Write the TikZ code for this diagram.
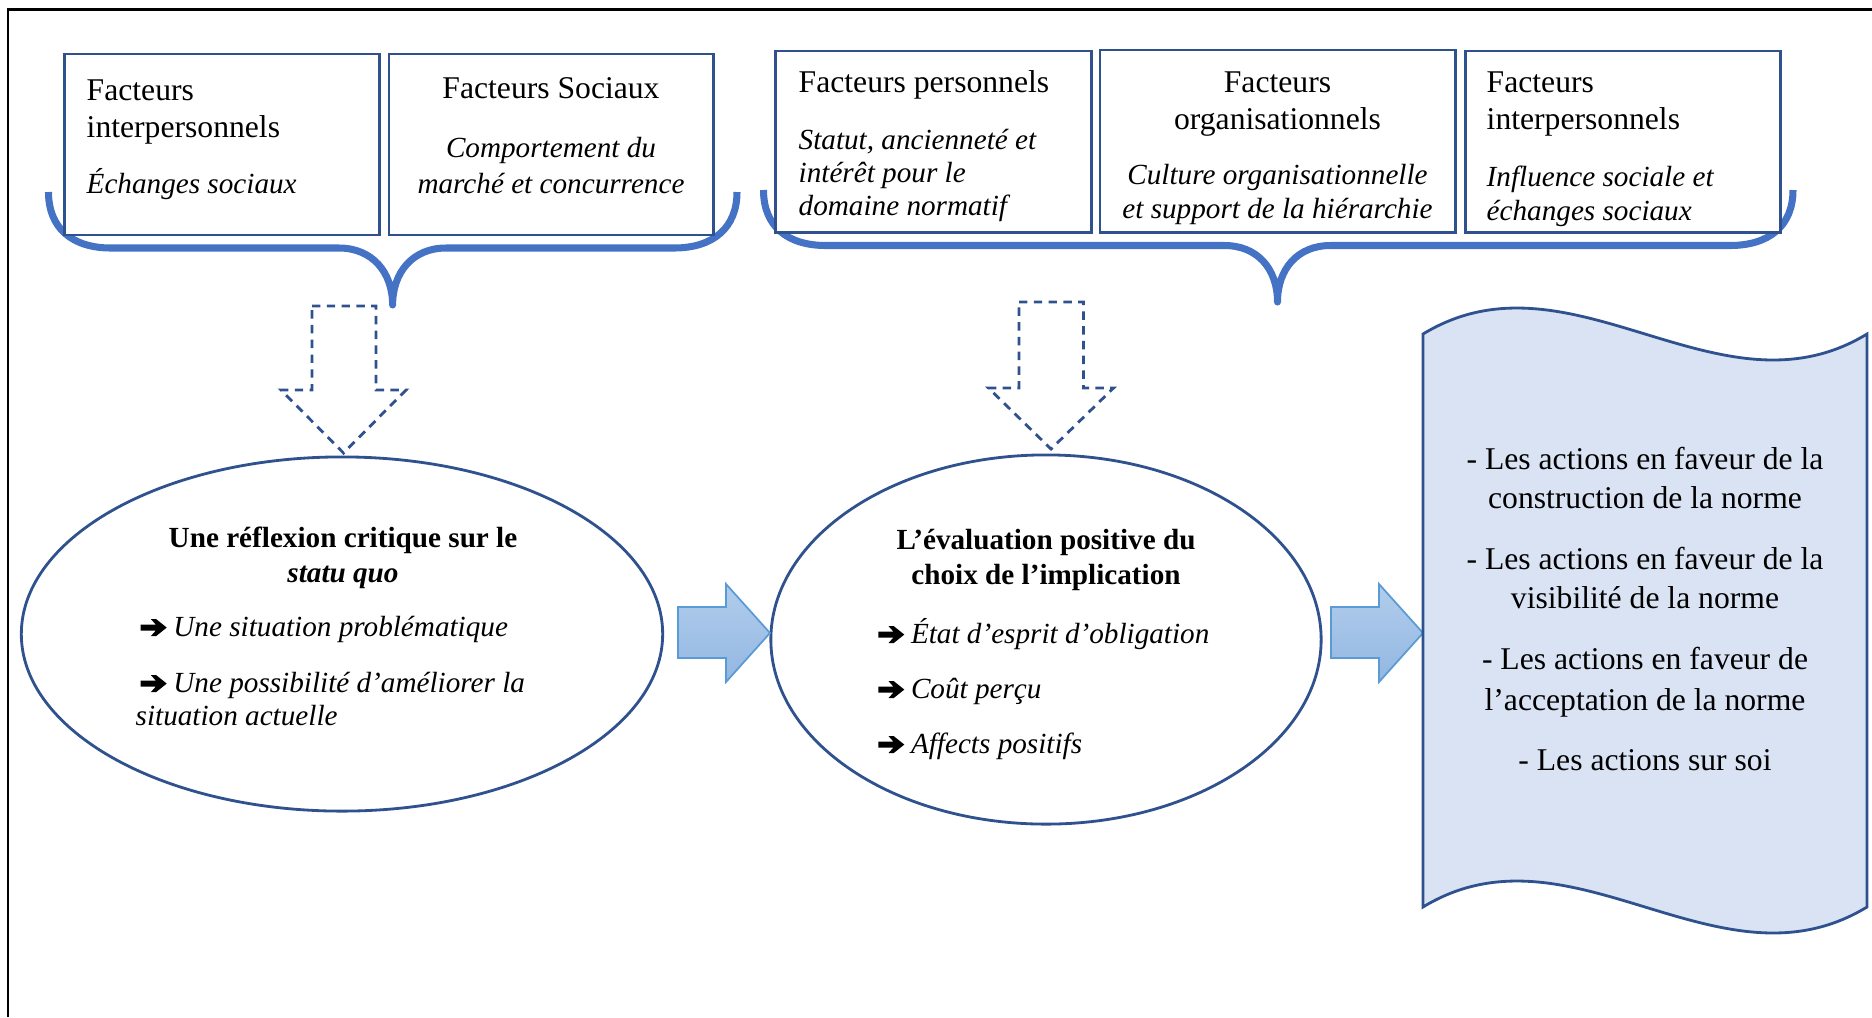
\documentclass[tikz,border=0pt]{standalone}
\usepackage{fontspec}
\setmainfont{Liberation Serif}
\usetikzlibrary{shapes.geometric}
\definecolor{boxblue}{RGB}{47,82,143}
\definecolor{braceblue}{RGB}{68,114,196}
\definecolor{wavefill}{RGB}{218,227,243}
\definecolor{arrtop}{RGB}{178,205,236}
\definecolor{arrbot}{RGB}{146,183,226}
\definecolor{arrline}{RGB}{91,155,213}
\newcommand{\harr}{\tikz[baseline=0pt,x=1pt,y=1pt]{\fill[black] (0,1.55) -- (4.3,1.55) -- (2.9,0) -- (4.4,0) -- (7.4,2.4) -- (4.4,4.8) -- (2.9,4.8) -- (4.3,3.25) -- (0,3.25) -- cycle;}\hspace{1.9pt}}
\tikzset{
  factbox/.style={draw=boxblue, line width=0.8pt, fill=white, rectangle, inner sep=0pt},
  reg/.style={inner sep=0pt, font=\fontsize{9}{10.5}\selectfont},
  ita/.style={inner sep=0pt, font=\fontsize{8.3}{9.6}\selectfont\itshape},
  bld/.style={inner sep=0pt, font=\fontsize{8.3}{9.6}\selectfont\bfseries},
  wavetxt/.style={inner sep=0pt, font=\fontsize{9}{11}\selectfont},
  bracepath/.style={draw=braceblue, line width=2pt, line join=round},
  ovalnode/.style={draw=boxblue, line width=0.8pt, ellipse, inner sep=0pt, fill=white},
  blockarrow/.style={top color=arrtop, bottom color=arrbot, draw=arrline, line width=0.5pt},
  dasharrow/.style={draw=boxblue, line width=0.8pt, dash pattern=on 2.4pt off 1.8pt},
  wavebox/.style={fill=wavefill, draw=boxblue, line width=0.8pt}
}
\begin{document}
\begin{tikzpicture}[x=0.01cm, y=-0.01cm]
\useasboundingbox (0,0) rectangle (1872,1017);
% frame
\draw[line width=0.7pt] (8,1017) -- (8,9.5) -- (1872,9.5);

% braces
\draw[bracepath] (48.5,192) .. controls (48.5,228) and (72,248) .. (111,248) -- (339,248)
  .. controls (372,248) and (392.6,272) .. (392.6,305)
  .. controls (392.6,272) and (413,248) .. (446,248) -- (674,248)
  .. controls (713,248) and (737,228) .. (737,192);
\draw[bracepath] (763.5,190) .. controls (763.5,226) and (787,245.5) .. (826,245.5) -- (1224.5,245.5)
  .. controls (1257.5,245.5) and (1277.5,269) .. (1277.5,302)
  .. controls (1277.5,269) and (1297.5,245.5) .. (1330.5,245.5) -- (1730,245.5)
  .. controls (1769,245.5) and (1793,226) .. (1793,190);

% top boxes
\node[factbox, minimum width=3.145cm, minimum height=1.81cm] (bA) at (221.75,144.5) {};
\node[factbox, minimum width=3.245cm, minimum height=1.81cm] (bB) at (551.25,144.5) {};
\node[factbox, minimum width=3.154cm, minimum height=1.815cm] (bC) at (933.3,141.75) {};
\node[factbox, minimum width=3.55cm, minimum height=1.825cm] (bD) at (1277.5,141.25) {};
\node[factbox, minimum width=3.143cm, minimum height=1.817cm] (bE) at (1622.85,141.85) {};

% box texts
\node[reg, anchor=base west] (tA1) at (86,100) {Facteurs};
\node[reg, anchor=base west] (tA2) at (86,137) {interpersonnels};
\node[ita, anchor=base west] (tA3) at (86,193) {Échanges sociaux};

\node[reg, anchor=base] (tB1) at (551,98) {Facteurs Sociaux};
\node[ita, anchor=base] (tB2) at (551,157) {Comportement du};
\node[ita, anchor=base] (tB3) at (551,193) {marché et concurrence};

\node[reg, anchor=base west] (tC1) at (798,92) {Facteurs personnels};
\node[ita, anchor=base west] (tC2) at (798,149) {Statut, ancienneté et};
\node[ita, anchor=base west] (tC3) at (798,182) {intérêt pour le};
\node[ita, anchor=base west] (tC4) at (798,215) {domaine normatif};

\node[reg, anchor=base] (tD1) at (1277.5,92) {Facteurs};
\node[reg, anchor=base] (tD2) at (1277.5,129) {organisationnels};
\node[ita, anchor=base] (tD3) at (1277.5,184) {Culture organisationnelle};
\node[ita, anchor=base] (tD4) at (1277.5,218) {et support de la hiérarchie};

\node[reg, anchor=base west] (tE1) at (1486,92) {Facteurs};
\node[reg, anchor=base west] (tE2) at (1486,129) {interpersonnels};
\node[ita, anchor=base west] (tE3) at (1486,186) {Influence sociale et};
\node[ita, anchor=base west] (tE4) at (1486,220) {échanges sociaux};

% dashed hollow arrows
\draw[dasharrow] (312,306) -- (376,306) -- (376,390) -- (406,390) -- (343.5,453) -- (281,390) -- (312,390) -- cycle;
\draw[dasharrow] (1019,302) -- (1083.5,302) -- (1083.5,388) -- (1113.5,388) -- (1051,449) -- (988.5,388) -- (1019,388) -- cycle;

% ellipses
\node[ovalnode, minimum width=6.41cm, minimum height=3.54cm] (e1) at (342,634) {};
\node[ovalnode, minimum width=5.5cm, minimum height=3.69cm] (e2) at (1046,639.5) {};

\node[bld, anchor=base] (t11) at (343,547) {Une réflexion critique sur le};
\node[bld, anchor=base] (t12) at (343,582) {\itshape statu quo};
\node[ita, anchor=base west] (t13) at (140,636) {\harr Une situation problématique};
\node[ita, anchor=base west] (t14) at (140,692) {\harr Une possibilité d’améliorer la};
\node[ita, anchor=base west] (t15) at (135,725) {situation actuelle};

\node[bld, anchor=base] (t21) at (1046,549) {L’évaluation positive du};
\node[bld, anchor=base] (t22) at (1046,584) {choix de l’implication};
\node[ita, anchor=base west] (t23) at (877.6,643) {\harr État d’esprit d’obligation};
\node[ita, anchor=base west] (t24) at (877.6,698) {\harr Coût perçu};
\node[ita, anchor=base west] (t25) at (877.6,753) {\harr Affects positifs};

% block arrows
\draw[blockarrow] (678,607) -- (726,607) -- (726,584) -- (770,633) -- (726,682) -- (726,658) -- (678,658) -- cycle;
\draw[blockarrow] (1331,607) -- (1379,607) -- (1379,584) -- (1423,633) -- (1379,682) -- (1379,658) -- (1331,658) -- cycle;

% wave box
\draw[wavebox] (1423,334) .. controls (1571,244) and (1719,424) .. (1867,334) -- (1867,907)
  .. controls (1719,997) and (1571,817) .. (1423,907) -- cycle;

\node[wavetxt, anchor=base] (w1) at (1645,469.5) {- Les actions en faveur de la};
\node[wavetxt, anchor=base] (w2) at (1645,508.5) {construction de la norme};
\node[wavetxt, anchor=base] (w3) at (1645,569.5) {- Les actions en faveur de la};
\node[wavetxt, anchor=base] (w4) at (1645,608.5) {visibilité de la norme};
\node[wavetxt, anchor=base] (w5) at (1645,669.5) {- Les actions en faveur de};
\node[wavetxt, anchor=base] (w6) at (1645,710.5) {l’acceptation de la norme};
\node[wavetxt, anchor=base] (w7) at (1645,770.5) {- Les actions sur soi};
\end{tikzpicture}
\end{document}
